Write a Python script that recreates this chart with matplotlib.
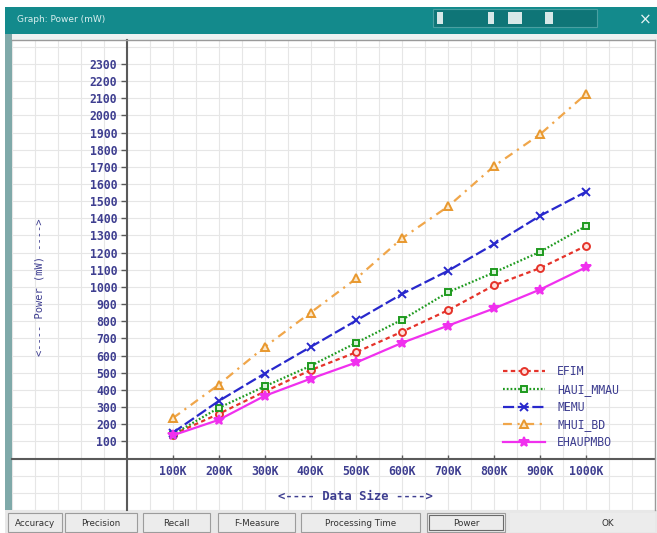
import matplotlib
matplotlib.use("Agg")
import matplotlib.pyplot as plt
from matplotlib.patches import Rectangle
from matplotlib.lines import Line2D

# ---------------- data ----------------
sizes = [100, 200, 300, 400, 500, 600, 700, 800, 900, 1000]   # K records
x_labels = ["100K", "200K", "300K", "400K", "500K", "600K", "700K", "800K", "900K", "1000K"]
y_ticks = list(range(100, 2400, 100))

efim      = [140, 260, 390, 515, 620, 740, 865, 1010, 1110, 1240]
haui_mmau = [140, 295, 420, 540, 675, 810, 970, 1085, 1205, 1355]
memu      = [150, 335, 495, 650, 805, 960, 1095, 1250, 1415, 1555]
mhui_bd   = [235, 430, 650, 850, 1050, 1285, 1470, 1705, 1890, 2125]
ehaupmbo  = [135, 225, 365, 465, 560, 675, 775, 875, 985, 1115]

series_names = ["EFIM", "HAUI_MMAU", "MEMU", "MHUI_BD", "EHAUPMBO"]
buttons = ["Accuracy", "Precision", "Recall", "F-Measure", "Processing Time", "Power", "OK"]

# ---------------- figure ----------------
W, H = 657, 533
fig = plt.figure(figsize=(W / 100, H / 100), dpi=100)
fig.patch.set_facecolor("white")

def fx(px):
    return px / W

def fy(py):
    return 1 - py / H

def rect(x0, y0, x1, y1, **kw):
    r = Rectangle((fx(x0), fy(y1)), fx(x1) - fx(x0), fy(y0) - fy(y1),
                  transform=fig.transFigure, **kw)
    fig.add_artist(r)
    return r

TEAL = "#138a8c"
NAVY = "#3e3e90"

# window chrome
rect(5, 7, 657, 34, facecolor=TEAL, edgecolor="none", zorder=0)
rect(5, 34, 657, 40, facecolor="#eef2f2", edgecolor="none", zorder=0)
rect(5, 34, 12, 533, facecolor="#7fa9a9", edgecolor="none", zorder=0)
fig.text(fx(17), fy(20), "Graph: Power (mW)", color="#d9efef", fontsize=6.5,
         va="center", ha="left", family="DejaVu Sans")
# title bar widget
rect(433, 9, 597, 27, facecolor="#0f7577", edgecolor="#4aa0a2", lw=0.8, zorder=1)
for (a, b) in [(437, 443), (488, 494), (508, 522), (545, 553)]:
    rect(a, 12, b, 24, facecolor="#d8e8e8", edgecolor="none", zorder=2)
fig.text(fx(645), fy(20), "\u00d7", color="#e8f4f4", fontsize=11, va="center", ha="center")

# ---------------- axes ----------------
ax = fig.add_axes([fx(12), fy(510), fx(655) - fx(12), fy(40) - fy(510)])
ax.set_facecolor("white")

px_per_100k = 46.2
x0_px = 125.5
px_per_unit_y = 0.1717
y0_px = 458.8
ax.set_xlim((12 - x0_px) / px_per_100k * 100, (655 - x0_px) / px_per_100k * 100)
ax.set_ylim((y0_px - 510) / px_per_unit_y, (y0_px - 40) / px_per_unit_y)

ax.set_xticks(sizes)
ax.set_xticklabels(x_labels)
ax.set_yticks(y_ticks)
ax.set_xticks([v for v in range(-250, 1200, 50)], minor=True)
ax.set_yticks([v for v in range(-300, 2500, 100)], minor=True)
ax.grid(which="both", color="#e6e6e6", linewidth=0.8)
ax.set_axisbelow(True)

for s in ["top", "right"]:
    ax.spines[s].set_visible(False)
ax.spines["left"].set_position(("data", 0))
ax.spines["bottom"].set_position(("data", 0))
for s in ["left", "bottom"]:
    ax.spines[s].set_color("#5a5a5a")
    ax.spines[s].set_linewidth(1.5)

tick_font = dict(family="DejaVu Sans Mono", size=8.3, weight="bold")
ax.tick_params(axis="y", which="major", direction="out", length=4, width=1,
               color="#5a5a5a", labelcolor=NAVY, pad=3)
ax.tick_params(axis="x", which="major", direction="in", length=3, width=1,
               color="#5a5a5a", labelcolor=NAVY, pad=5)
ax.tick_params(which="minor", length=0)
for lab in ax.get_xticklabels() + ax.get_yticklabels():
    lab.set_fontfamily(tick_font["family"])
    lab.set_fontsize(tick_font["size"])
    lab.set_fontweight(tick_font["weight"])

# ---------------- series ----------------
styles = [
    dict(color="#e5332a", linestyle=(0, (2.0, 1.5)), marker="o", mfc="#fde0dc", mec="#e5332a", ms=5),
    dict(color="#1e9a1e", linestyle=(0, (0.8, 0.9)), marker="s", mfc="#d8f2d8", mec="#1e9a1e", ms=5),
    dict(color="#2828cc", linestyle=(0, (5.0, 1.6)), marker="x", mfc="#2828cc", mec="#2828cc", ms=6),
    dict(color="#f0a64a", linestyle=(0, (4.0, 2.5, 1.0, 2.5)), marker="^", mfc="#fbe6c8", mec="#e8982e", ms=6),
    dict(color="#f030ee", linestyle="-", marker="*", mfc="#f030ee", mec="#f030ee", ms=7),
]
all_data = [efim, haui_mmau, memu, mhui_bd, ehaupmbo]
for name, data, st in zip(series_names, all_data, styles):
    ax.plot(sizes, data, label=name, linewidth=1.6, markeredgewidth=1.4, zorder=3, **st)

leg = ax.legend(loc="upper left", bbox_to_anchor=(fx(503), fy(365)),
                bbox_transform=fig.transFigure, frameon=False, borderpad=0,
                borderaxespad=0, handlelength=3.6, handletextpad=1.1,
                labelspacing=0.42, prop=dict(family="DejaVu Sans Mono", size=8.3))
for t in leg.get_texts():
    t.set_color(NAVY)

# axis titles
fig.text(fx(355), fy(496), "<---- Data Size ---->", color=NAVY, fontsize=8.8,
         family="DejaVu Sans Mono", weight="bold", ha="center", va="center")
fig.text(fx(40), fy(287), "<---- Power (mW) ---->", color=NAVY, fontsize=7.5,
         family="DejaVu Sans Mono", rotation=90, ha="center", va="center")

# frame lines
fig.add_artist(Line2D([fx(12), fx(655)], [fy(40), fy(40)], transform=fig.transFigure,
                      color="#9a9a9a", lw=1))
fig.add_artist(Line2D([fx(655), fx(655)], [fy(40), fy(510)], transform=fig.transFigure,
                      color="#9a9a9a", lw=1))

# ---------------- button bar ----------------
rect(5, 510, 657, 533, facecolor="#e8e8e8", edgecolor="none", zorder=0)
btn_px = [(8, 62), (65, 137), (143, 210), (218, 295), (301, 420), (427, 505), (510, 655)]
for label, (a, b) in zip(buttons, btn_px):
    if label == "OK":
        rect(a, 513, b, 532, facecolor="#ececec", edgecolor="none", zorder=1)
    else:
        rect(a, 513, b, 532, facecolor="#ececec", edgecolor="#9c9c9c", lw=0.8, zorder=1)
    if label == "Power":
        rect(a + 2, 515, b - 2, 530, facecolor="none", edgecolor="#6a6a6a", lw=0.8, zorder=2)
    fig.text(fx((a + b) / 2 + (25 if label == "OK" else 0)), fy(523), label, fontsize=6.3,
             color="#333333", ha="center", va="center", family="DejaVu Sans")

fig.savefig("out.png", dpi=100)
